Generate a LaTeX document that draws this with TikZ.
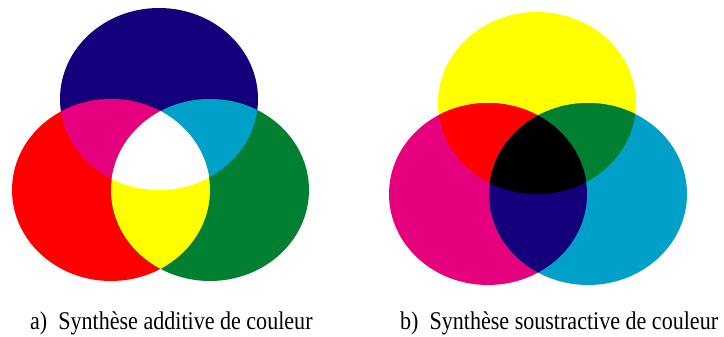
\documentclass[tikz,border=0pt]{standalone}
\usepackage{fontspec}
\setmainfont{Liberation Serif}
\definecolor{navyc}{RGB}{20,0,122}
\definecolor{redc}{RGB}{255,0,0}
\definecolor{greenc}{RGB}{0,128,48}
\definecolor{magentac}{RGB}{230,0,126}
\definecolor{cyanc}{RGB}{0,160,200}
\definecolor{yellowc}{RGB}{255,255,0}
\begin{document}
\begin{tikzpicture}[x=1pt,y=-1pt,
  caption/.style={anchor=base west, inner sep=0pt, font=\fontsize{25.5}{30}\selectfont},
  ell/.style={x radius=99pt, y radius=91pt}]
\useasboundingbox (0,0) rectangle (724,337);
% ---------- a) additive ----------
\fill[navyc] (159,99) ellipse [ell];
\fill[redc] (111,190) ellipse [ell];
\fill[greenc] (210,190) ellipse [ell];
\begin{scope}
  \clip (159,99) ellipse [ell];
  \fill[magentac] (111,190) ellipse [ell];
  \fill[cyanc] (210,190) ellipse [ell];
\end{scope}
\begin{scope}
  \clip (111,190) ellipse [ell];
  \fill[yellowc] (210,190) ellipse [ell];
\end{scope}
\begin{scope}
  \clip (159,99) ellipse [ell];
  \clip (111,190) ellipse [ell];
  \fill[white] (210,190) ellipse [ell];
\end{scope}
% ---------- b) subtractive ----------
\fill[yellowc] (537,103) ellipse [ell];
\fill[magentac] (488,194) ellipse [ell];
\fill[cyanc] (588,194) ellipse [ell];
\begin{scope}
  \clip (537,103) ellipse [ell];
  \fill[redc] (488,194) ellipse [ell];
  \fill[greenc] (588,194) ellipse [ell];
\end{scope}
\begin{scope}
  \clip (488,194) ellipse [ell];
  \fill[navyc] (588,194) ellipse [ell];
\end{scope}
\begin{scope}
  \clip (537,103) ellipse [ell];
  \clip (488,194) ellipse [ell];
  \fill[black] (588,194) ellipse [ell];
\end{scope}
% ---------- captions ----------
\node[caption] (capa) at (30,329) {\scalebox{0.865}[1]{a)\hspace{0.5em}Synthèse additive de couleur}};
\node[caption] (capb) at (400,329) {\scalebox{0.865}[1]{b)\hspace{0.5em}Synthèse soustractive de couleur}};
\end{tikzpicture}
\end{document}
